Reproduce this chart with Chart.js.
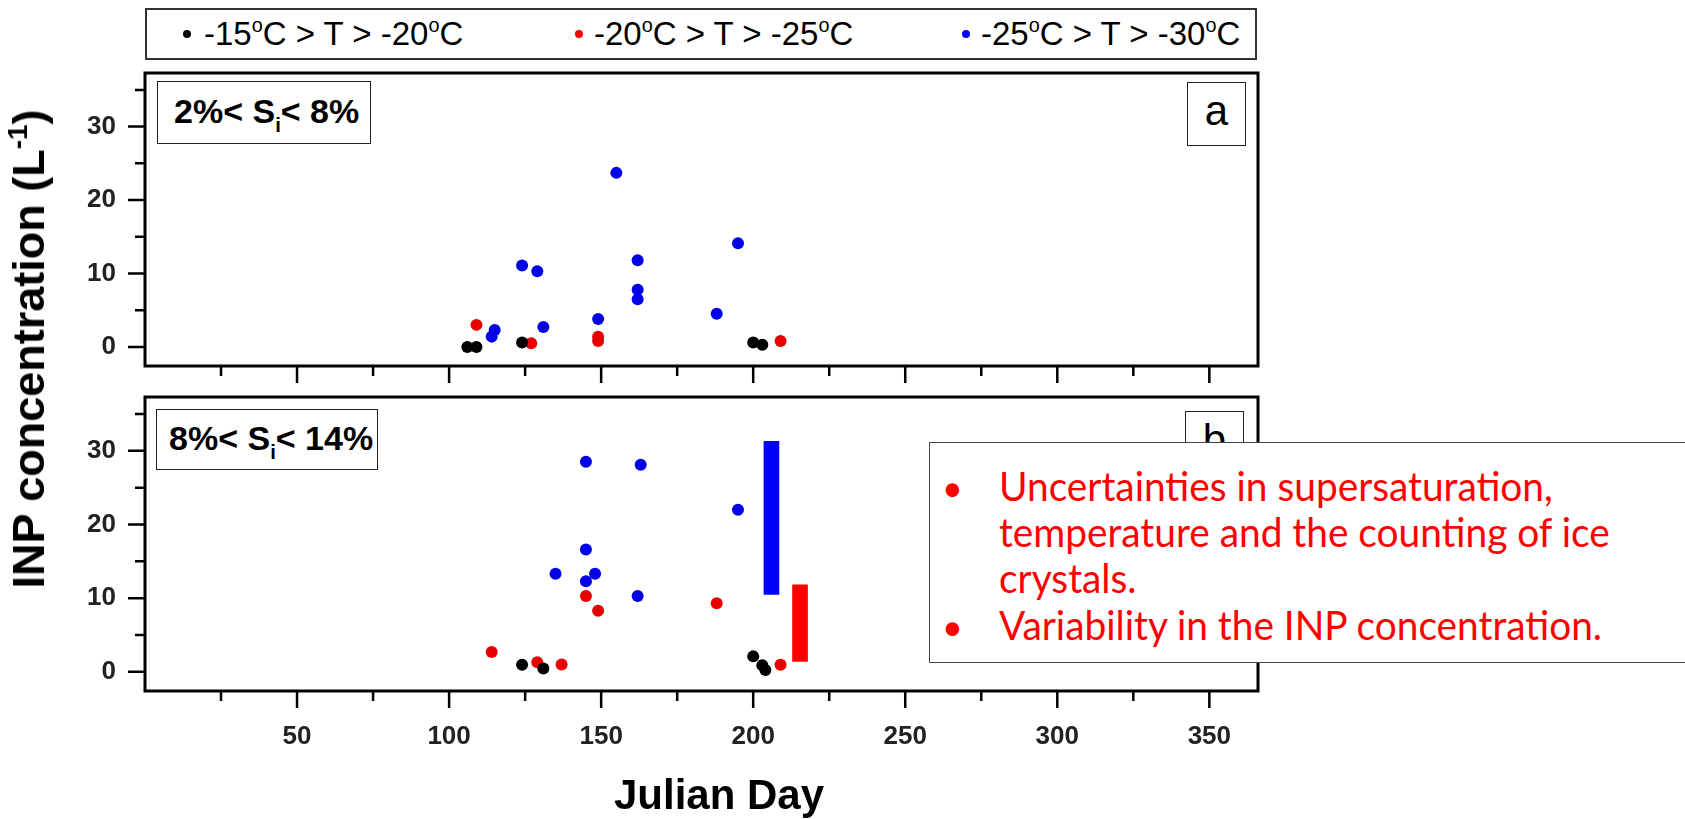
<!DOCTYPE html>
<html>
<head>
<meta charset="utf-8">
<script src="https://cdn.jsdelivr.net/npm/chart.js@4.4.1/dist/chart.umd.min.js"></script>
<style>
  html, body { margin: 0; padding: 0; background: #fff; }
  body { width: 1685px; height: 819px; position: relative; overflow: hidden;
         font-family: "Liberation Sans", Arial, sans-serif; color: #000; }
  .abs { position: absolute; }
  canvas { position: absolute; left: 0; }
  #legend { left: 145px; top: 8px; width: 1112px; height: 52px; border: 2px solid #333;
            box-sizing: border-box; z-index: 2; background: #fff; }
  .item { position: absolute; top: 0; line-height: 48px; font-size: 33px; white-space: nowrap; }
  .dot { position: absolute; width: 8px; height: 8px; border-radius: 50%; top: 20px; }
  sup.deg { font-size: 60%; vertical-align: 0.65em; line-height: 0; }
  .plabel { border: 1.5px solid #222; box-sizing: border-box; font-weight: bold; font-size: 34px;
            white-space: nowrap; z-index: 2; background: #fff; }
  .plabel span { position: absolute; top: 10px; }
  .plabel sub { font-size: 60%; vertical-align: -0.45em; line-height: 0; font-weight: bold; }
  .letter { border: 1.5px solid #222; box-sizing: border-box; font-size: 42px; text-align: center;
            line-height: 56px; z-index: 2; background: #fff; }
  #ytitle { left: 29px; top: 349px; transform: translate(-50%, -50%) rotate(-90deg);
            font-weight: bold; font-size: 45px; white-space: nowrap; }
  #ytitle sup { font-size: 62%; vertical-align: 0.6em; line-height: 0; }
  #xtitle { left: 719px; top: 795px; transform: translate(-50%, -50%);
            font-weight: bold; font-size: 42px; white-space: nowrap; }
  #note { left: 929px; top: 442px; width: 800px; height: 221px; border: 1.5px solid #444;
          box-sizing: border-box; background: #fff; z-index: 5; color: #ff0000;
          font-family: Lato, "Open Sans", sans-serif; font-size: 41px; }
  #note .ln { position: absolute; left: 69px; white-space: nowrap; transform-origin: 0 0; }
  #note .bul { position: absolute; left: 12px; font-size: 36px; }
</style>
</head>
<body>

<div id="legend" class="abs">
  <div class="dot" style="left:36px;background:#000"></div>
  <div class="item" style="left:57px">-15<sup class="deg">o</sup>C &gt; T &gt; -20<sup class="deg">o</sup>C</div>
  <div class="dot" style="left:428px;background:#f00"></div>
  <div class="item" style="left:447px">-20<sup class="deg">o</sup>C &gt; T &gt; -25<sup class="deg">o</sup>C</div>
  <div class="dot" style="left:815px;background:#00f"></div>
  <div class="item" style="left:834px">-25<sup class="deg">o</sup>C &gt; T &gt; -30<sup class="deg">o</sup>C</div>
</div>

<canvas id="chartA" width="1300" height="330" style="top:60px"></canvas>
<canvas id="chartB" width="1300" height="439" style="top:380px"></canvas>

<div class="abs plabel" style="left:157px;top:81px;width:214px;height:63px">
  <span style="left:16px">2%&lt; S<sub>i</sub>&lt; 8%</span>
</div>
<div class="abs plabel" style="left:156px;top:409px;width:222px;height:61px">
  <span style="left:12px;top:9px">8%&lt; S<sub>i</sub>&lt; 14%</span>
</div>
<div class="abs letter" style="left:1187px;top:82px;width:59px;height:64px">a</div>
<div class="abs letter" style="left:1185px;top:411px;width:59px;height:64px">b</div>

<div id="ytitle" class="abs">INP concentration (L<sup>-1</sup>)</div>
<div id="xtitle" class="abs">Julian Day</div>

<div id="note" class="abs">
  <span class="bul" style="top:22px">&bull;</span>
  <span class="ln" style="top:18px">Uncertainties in supersaturation,</span>
  <span class="ln" style="top:64px">temperature and the counting of ice</span>
  <span class="ln" style="top:110px">crystals.</span>
  <span class="bul" style="top:161px">&bull;</span>
  <span class="ln" style="top:157px">Variability in the INP concentration.</span>
</div>

<script>
// Julian day / INP concentration pairs
const aBlack = [[106, 0], [109, 0], [124, 0.6], [200, 0.6], [203, 0.3]];
const aRed = [[109, 3.0], [127, 0.5], [149, 1.4], [149, 0.8], [209, 0.8]];
const aBlue = [[114, 1.4], [115, 2.3], [124, 11.1], [129, 10.3], [131, 2.7], [149, 3.8],
               [155, 23.7], [162, 11.8], [162, 7.8], [162, 6.5], [188, 4.5], [195, 14.1]];

const bBlack = [[124, 0.95], [131, 0.45], [200, 2.1], [203, 0.9], [204, 0.25]];
const bRed = [[114, 2.7], [129, 1.3], [137, 1.0], [145, 10.3], [149, 8.3], [188, 9.3], [209, 0.95]];
const bBlue = [[145, 28.5], [163, 28.1], [145, 16.6], [135, 13.3], [148, 13.3], [145, 12.3],
               [162, 10.3], [195, 22.0]];

// uncertainty bars in panel b: [day, low, high]
const blueBar = [206, 10.5, 31.3];
const redBar = [215.4, 1.4, 11.8];

const seriesNames = ['-15°C > T > -20°C', '-20°C > T > -25°C', '-25°C > T > -30°C'];
const seriesColors = ['#000000', '#e80000', '#0000e8'];

const xMajor = [0, 50, 100, 150, 200, 250, 300, 350];
const xMinor = [25, 75, 125, 175, 225, 275, 325];
const yMajor = [0, 10, 20, 30];
const yMinor = [5, 15, 25, 35];

Chart.defaults.font.family = '"Liberation Sans", Arial, sans-serif';

// Origin style frame with outward ticks (major 17px, minor 10px)
const framePlugin = {
  id: 'frame',
  afterDraw(chart) {
    const { ctx, chartArea: a } = chart;
    const x = chart.scales.x, y = chart.scales.y;
    ctx.save();
    ctx.strokeStyle = '#000';
    ctx.lineWidth = 2.5;
    ctx.beginPath();
    xMajor.filter(v => v > 0).forEach(v => {
      const p = x.getPixelForValue(v);
      ctx.moveTo(p, a.bottom); ctx.lineTo(p, a.bottom + 17);
    });
    xMinor.forEach(v => {
      const p = x.getPixelForValue(v);
      ctx.moveTo(p, a.bottom); ctx.lineTo(p, a.bottom + 10);
    });
    yMajor.forEach(v => {
      const p = y.getPixelForValue(v);
      ctx.moveTo(a.left, p); ctx.lineTo(a.left - 17, p);
    });
    yMinor.forEach(v => {
      const p = y.getPixelForValue(v);
      ctx.moveTo(a.left, p); ctx.lineTo(a.left - 10, p);
    });
    ctx.stroke();
    ctx.lineWidth = 3;
    ctx.strokeRect(a.left, a.top, a.right - a.left, a.bottom - a.top);
    ctx.restore();
  }
};

function toPts(arr) {
  return arr.map(p => ({ x: p[0], y: p[1] }));
}

function makePanel(id, groups, bars, showLabels, topPad, xHeight) {
  const datasets = groups.map((g, i) => ({
    label: seriesNames[i],
    data: toPts(g),
    backgroundColor: seriesColors[i],
    borderWidth: 0,
    pointRadius: 6,
    pointHoverRadius: 6
  }));
  bars.forEach(b => {
    datasets.push({
      type: 'bar',
      label: 'uncertainty',
      data: [{ x: b[0], y: [b[1], b[2]] }],
      backgroundColor: b[3],
      borderWidth: 0,
      barThickness: 15,
      grouped: false
    });
  });

  return new Chart(document.getElementById(id), {
    type: 'scatter',
    data: { datasets: datasets },
    options: {
      responsive: false,
      animation: false,
      layout: { padding: { left: 0, top: topPad, right: 42, bottom: 0 } },
      plugins: { legend: { display: false }, tooltip: { enabled: false } },
      scales: {
        x: {
          type: 'linear', min: 0, max: 366, offset: false,
          afterBuildTicks: s => { s.ticks = xMajor.map(v => ({ value: v })); },
          afterFit: s => { s.height = xHeight; s.paddingLeft = 0; s.paddingRight = 0; },
          border: { display: false },
          grid: { display: false, drawTicks: false },
          ticks: {
            display: showLabels, padding: 30, color: '#222',
            font: { size: 26, weight: 'bold' },
            callback: v => v === 0 ? '' : v
          }
        },
        y: {
          type: 'linear', min: -2.6, max: 37.3,
          afterBuildTicks: s => { s.ticks = yMajor.map(v => ({ value: v })); },
          afterFit: s => { s.width = 145; s.paddingTop = 0; s.paddingBottom = 0; },
          border: { display: false },
          grid: { display: false, drawTicks: false },
          ticks: { padding: 29, color: '#222', font: { size: 26, weight: 'bold' } }
        }
      }
    },
    plugins: [framePlugin]
  });
}

makePanel('chartA', [aBlack, aRed, aBlue], [], false, 13, 24);
makePanel('chartB', [bBlack, bRed, bBlue],
  [[blueBar[0], blueBar[1], blueBar[2], '#0000ff'], [redBar[0], redBar[1], redBar[2], '#ff0000']],
  true, 17, 128);

// squeeze the note lines to the width of the original Calibri text
const lastLine = document.querySelectorAll('#note .ln')[3];
const k = 603 / lastLine.getBoundingClientRect().width;
document.querySelectorAll('#note .ln').forEach(el => { el.style.transform = 'scaleX(' + k + ')'; });
</script>
</body>
</html>
